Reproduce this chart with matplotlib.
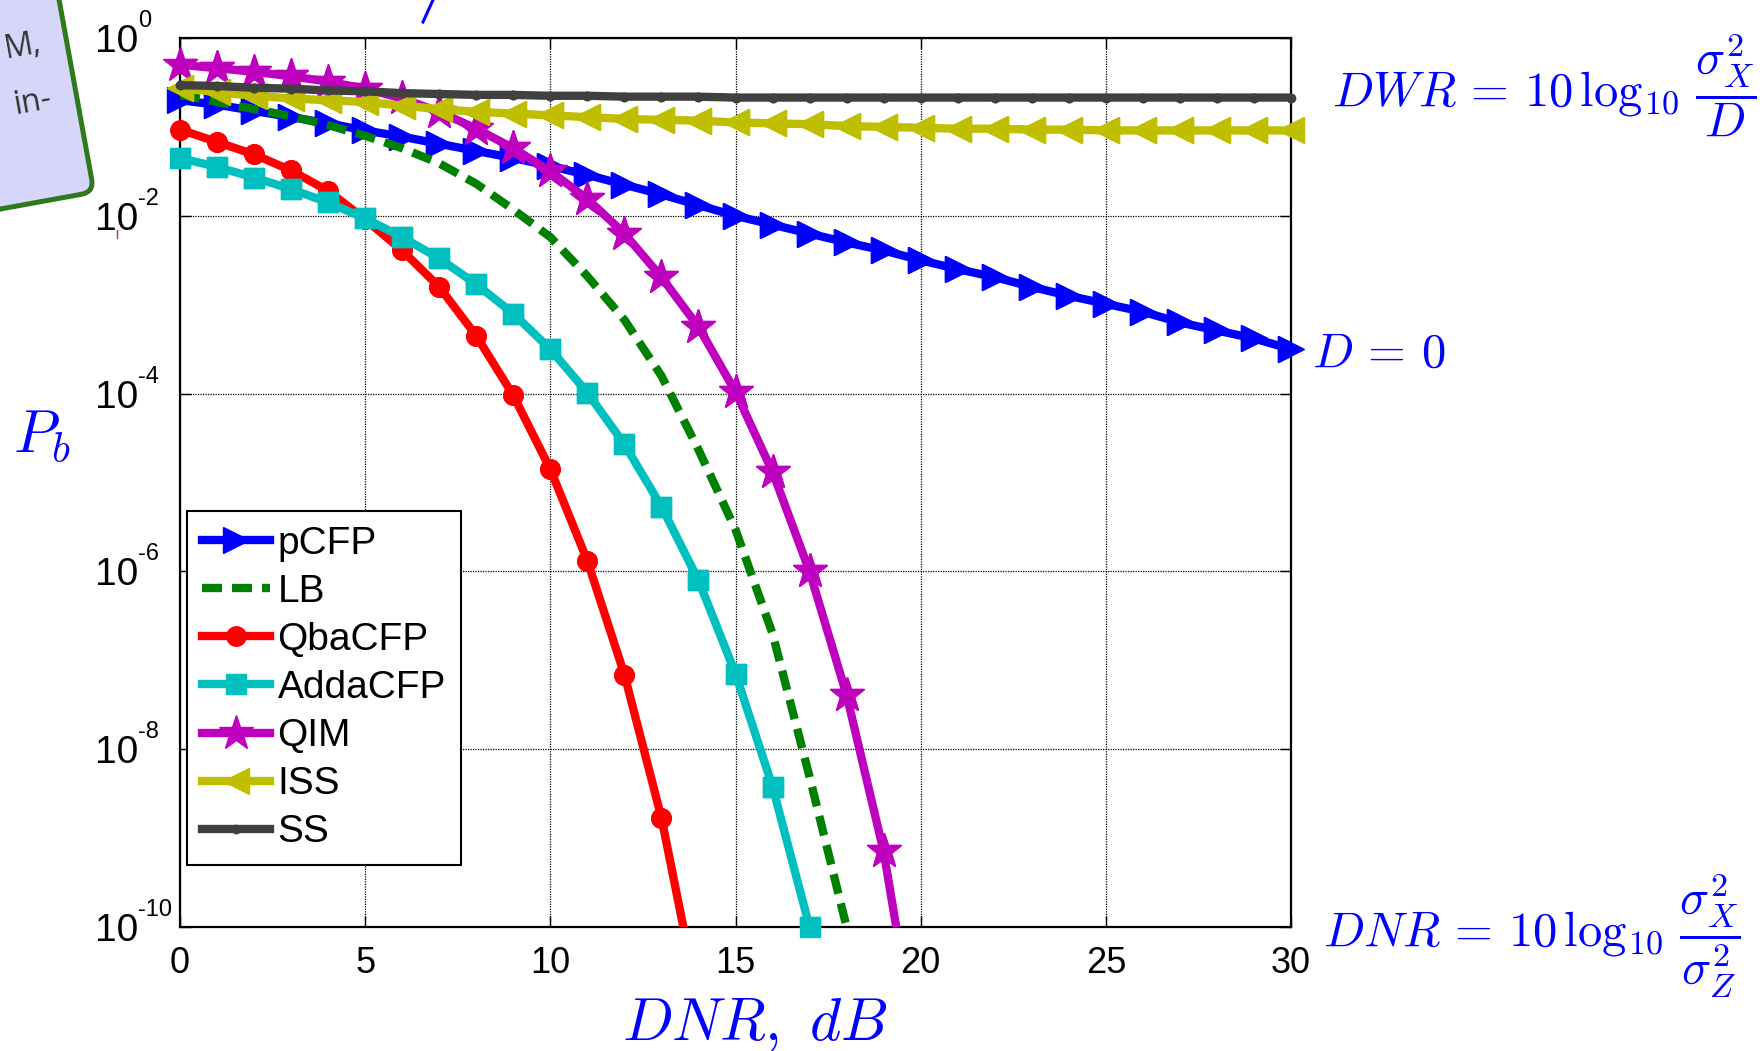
import numpy as np
import matplotlib
matplotlib.use("Agg")
import matplotlib.pyplot as plt
import matplotlib.transforms as mtransforms
from matplotlib.patches import FancyBboxPatch
from matplotlib.lines import Line2D

plt.rcParams['font.family'] = ['Liberation Sans', 'DejaVu Sans']
plt.rcParams['mathtext.fontset'] = 'cm'
plt.rcParams['axes.unicode_minus'] = False

# =========================
# Data: log10(Pb) vs DNR (dB)
# =========================
pcfp_x = np.arange(0, 31)
pcfp_log = [-0.70, -0.75, -0.82, -0.89, -0.96, -1.04, -1.11, -1.19, -1.27, -1.35,
            -1.44, -1.54, -1.65, -1.76, -1.88, -2.00, -2.10, -2.20, -2.30, -2.39,
            -2.50, -2.60, -2.69, -2.80, -2.90, -2.99, -3.08, -3.20, -3.29, -3.38, -3.50]

lb_x = np.arange(0, 19)
lb_log = [-0.64, -0.72, -0.80, -0.88, -0.98, -1.10, -1.24, -1.41, -1.64, -1.93,
          -2.24, -2.68, -3.17, -3.80, -4.63, -5.53, -6.70, -8.31, -10.0]

qba_x = np.arange(0, 15)
qba_log = [-1.03, -1.17, -1.31, -1.49, -1.72, -2.04, -2.39, -2.80, -3.35, -4.02,
           -4.85, -5.88, -7.16, -8.77, -10.85]

adda_x = np.arange(0, 18)
adda_log = [-1.35, -1.45, -1.57, -1.70, -1.85, -2.03, -2.24, -2.48, -2.77, -3.10,
            -3.50, -3.99, -4.57, -5.27, -6.10, -7.15, -8.42, -10.0]

qim_x = np.arange(0, 21)
qim_log = [-0.30, -0.34, -0.38, -0.43, -0.49, -0.57, -0.68, -0.83, -1.02, -1.24,
           -1.50, -1.81, -2.20, -2.69, -3.25, -3.98, -4.88, -6.00, -7.39, -9.15, -11.65]

iss_x = np.arange(0, 31)
iss_log = [-0.56, -0.61, -0.65, -0.68, -0.70, -0.72, -0.76, -0.80, -0.83, -0.85,
           -0.87, -0.89, -0.91, -0.92, -0.93, -0.95, -0.96, -0.97, -0.99, -1.00,
           -1.01, -1.02, -1.02, -1.03, -1.03, -1.04, -1.04, -1.04, -1.04, -1.04, -1.04]

ss_x = np.arange(0, 31)
ss_log = [-0.53, -0.54, -0.56, -0.57, -0.59, -0.60, -0.62, -0.63, -0.64, -0.64,
          -0.65, -0.65, -0.66, -0.66, -0.66, -0.67, -0.67, -0.67, -0.67, -0.67,
          -0.67, -0.67, -0.67, -0.67, -0.67, -0.67, -0.67, -0.67, -0.67, -0.67, -0.67]

labels = ["pCFP", "LB", "QbaCFP", "AddaCFP", "QIM", "ISS", "SS"]
xticks = [0, 5, 10, 15, 20, 25, 30]
ytick_exps = [0, -2, -4, -6, -8, -10]

W, H = 1764, 1051
BLUE = "#0000FF"


def fx(px):
    return px / W


def fy(py):
    return 1 - py / H


# =========================
# Figure
# =========================
fig = plt.figure(figsize=(W / 100, H / 100), dpi=100)
ax = fig.add_axes([fx(180), fy(927), (1291 - 180) / W, (927 - 38) / H])
ax.set_yscale('log')

series = [
    (pcfp_x, pcfp_log, dict(color="#0000FF", marker=">", markersize=19, linestyle='-')),
    (lb_x, lb_log, dict(color="#008000", marker="None", linestyle=(0, (2.4, 1.2)))),
    (qba_x, qba_log, dict(color="#FF0000", marker="o", markersize=14, linestyle='-')),
    (adda_x, adda_log, dict(color="#00BFBF", marker="s", markersize=14, linestyle='-')),
    (qim_x, qim_log, dict(color="#BF00BF", marker="*", markersize=26, linestyle='-')),
    (iss_x, iss_log, dict(color="#BFBF00", marker="<", markersize=19, linestyle='-')),
    (ss_x, ss_log, dict(color="#404040", marker="o", markersize=6, linestyle='-')),
]

for i, (x, ylog, style) in enumerate(series):
    y = 10.0 ** np.array(ylog)
    ax.plot(x, y, linewidth=6, label=labels[i], zorder=3 + i,
            markeredgecolor=style['color'], markerfacecolor=style['color'],
            dash_capstyle='butt', **style)
    # markers are not clipped at the frame (as in the original)
    inside = (y >= 1e-10 * 0.999)
    if style['marker'] != "None":
        ax.plot(x[inside], y[inside], linestyle='none', marker=style['marker'],
                markersize=style['markersize'], color=style['color'],
                clip_on=False, zorder=3 + i)

ax.set_xlim(0, 30)
ax.set_ylim(1e-10, 1)
ax.set_xticks(xticks)
ax.set_xticklabels([str(t) for t in xticks], fontsize=26)
ax.set_yticks([10.0 ** e for e in ytick_exps])
ax.set_yticklabels([])
ax.minorticks_off()
ax.tick_params(direction='in', top=True, right=True, length=8, width=1)
ax.tick_params(axis='x', pad=14)
ax.grid(True, color='black', linestyle=(0, (1, 1)), linewidth=0.9)
for sp in ax.spines.values():
    sp.set_linewidth(1.6)

# y tick labels drawn as "10" + raised exponent (MATLAB look)
ytrans = ax.get_yaxis_transform()
base_tr = mtransforms.offset_copy(ytrans, fig=fig, x=0, y=-14, units='dots')
exp_tr = mtransforms.offset_copy(ytrans, fig=fig, x=0, y=11, units='dots')
xlab = (138 - 180) / 1111
for e in ytick_exps:
    ax.text(xlab, 10.0 ** e, "10", fontsize=28, ha='right', va='baseline',
            transform=base_tr)
    ax.text(xlab, 10.0 ** e, str(e), fontsize=17, ha='left', va='baseline',
            transform=exp_tr)

ax.set_xlabel(r'$DNR,\ dB$', fontsize=43, color=BLUE, va='baseline')
ax.xaxis.set_label_coords((755 - 180) / 1111, -(1040 - 927) / 889)
ax.set_ylabel(r'$P_b$', fontsize=43, color=BLUE, rotation=0, ha='center', va='center')
ax.yaxis.set_label_coords((42 - 180) / 1111, (927 - 436) / 889)

leg = ax.legend(loc='lower left', bbox_to_anchor=(0.0063, 0.0697), borderaxespad=0,
                fontsize=28, handlelength=1.75, handletextpad=0.2, labelspacing=0.31,
                borderpad=0.38, fancybox=False, framealpha=1, edgecolor='black')
leg.get_frame().set_linewidth(1.5)
leg.set_zorder(20)

# =========================
# Annotations on the right
# =========================
fig.text(fx(1332), fy(85), r'$DWR\,=\,10\,\log_{10}\,\dfrac{\sigma_X^2}{D}$',
         fontsize=35, color=BLUE, ha='left', va='center')
fig.text(fx(1312), fy(367), r'$D\,=\,0$', fontsize=35, color=BLUE,
         ha='left', va='baseline')
fig.text(fx(1323), fy(936), r'$DNR\,=\,10\,\log_{10}\,\dfrac{\sigma_X^2}{\sigma_Z^2}$',
         fontsize=35, color=BLUE, ha='left', va='center')

# =========================
# Slide overlay fragments (top-left callout)
# =========================
inch = fig.dpi_scale_trans
cx, cy = 0.94, (H - 192) / 100
rot = mtransforms.Affine2D().rotate_deg_around(cx, cy, 10.3) + inch
box = FancyBboxPatch((cx - 3.2, cy), 3.2, 2.8,
                     boxstyle="round,pad=0,rounding_size=0.13",
                     facecolor="#D6D6FA", edgecolor="#2E7A1A", linewidth=3.6,
                     transform=rot, zorder=30)
fig.patches.append(box)
fig.text(fx(43), fy(52), "M,", fontsize=23, color="#333333", family="Open Sans",
         ha='right', va='baseline', rotation=10, rotation_mode='anchor', zorder=31)
fig.text(fx(53), fy(107), "in-", fontsize=23, color="#333333", family="Open Sans",
         ha='right', va='baseline', rotation=10, rotation_mode='anchor', zorder=31)
fig.lines.append(Line2D([fx(423), fx(433)], [fy(22), fy(0)], color=BLUE,
                        linewidth=2.2, transform=fig.transFigure))
fig.lines.append(Line2D([fx(117), fx(117)], [fy(230), fy(238)], color="#C04020",
                        linewidth=1, transform=fig.transFigure))

fig.savefig("out.png", dpi=100)
